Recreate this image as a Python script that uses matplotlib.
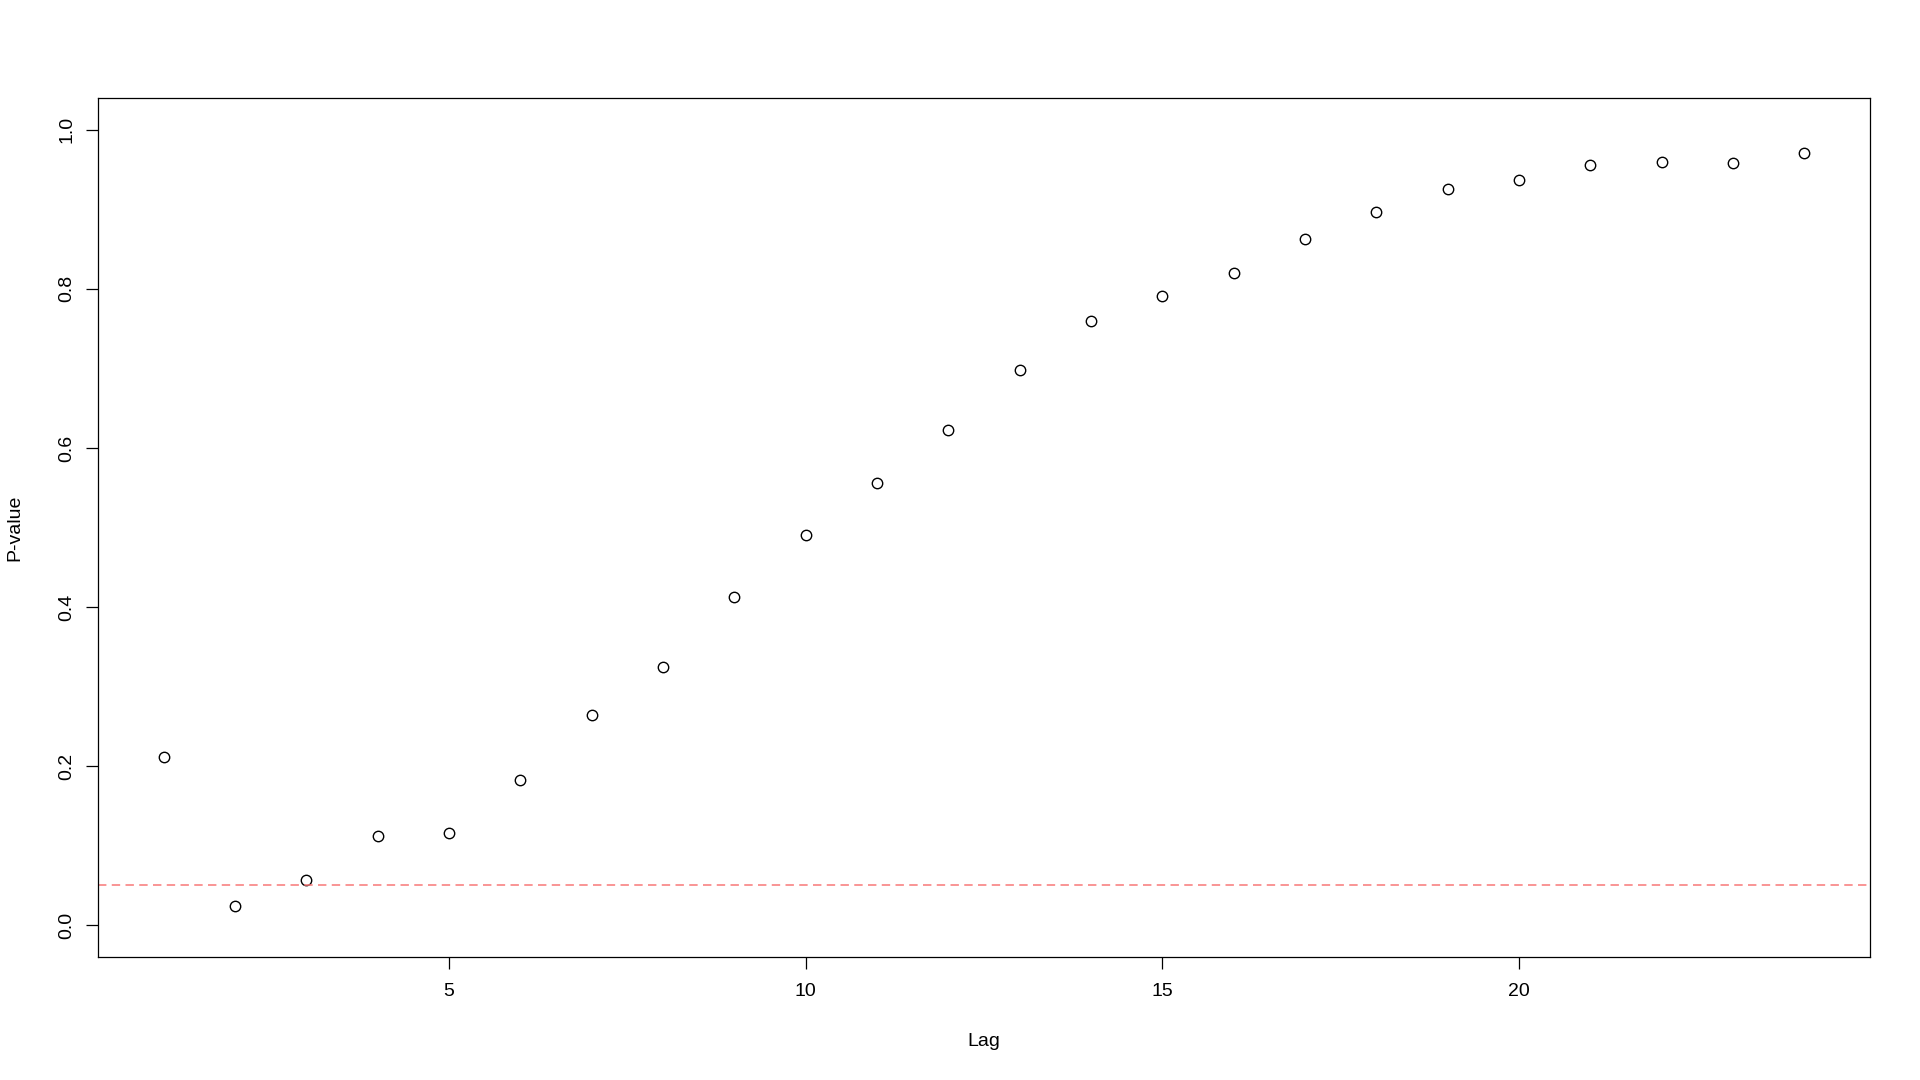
import numpy as np
import matplotlib
matplotlib.use("Agg")
import matplotlib.pyplot as plt

# Ljung-Box style p-values by lag
lags = list(range(1, 25))
pvalues = [0.211, 0.024, 0.057, 0.112, 0.116, 0.183, 0.264, 0.324,
           0.413, 0.491, 0.556, 0.623, 0.698, 0.760, 0.791, 0.820,
           0.863, 0.897, 0.925, 0.937, 0.956, 0.959, 0.958, 0.971]
threshold = 0.05
yticks = [0.0, 0.2, 0.4, 0.6, 0.8, 1.0]
xticks = [5, 10, 15, 20]

plt.rcParams['font.family'] = ['Liberation Sans', 'DejaVu Sans']

W, H = 1920, 1080
fig = plt.figure(figsize=(W / 100, H / 100), dpi=100)
left, right, top, bottom = 98, 1870, 98, 957
ax = fig.add_axes([left / W, 1 - bottom / H, (right - left) / W, (bottom - top) / H])

ax.plot(lags, pvalues, 'o', mfc='none', mec='black', ms=7.5, mew=1.0)
ax.axhline(threshold, color='#F87878', lw=1.1, dashes=(5.5, 3.5))

ax.set_xlim(0.08, 24.92)
ax.set_ylim(-0.04, 1.04)
ax.set_xticks(xticks)
ax.set_xticklabels([str(t) for t in xticks])
ax.set_yticks(yticks)
ax.set_yticklabels([f"{t:.1f}" for t in yticks], rotation=90, va='center')

for s in ax.spines.values():
    s.set_linewidth(0.9)
    s.set_color('black')
ax.tick_params(axis='both', length=8.5, width=0.9, labelsize=14)
ax.tick_params(axis='x', pad=10)
ax.tick_params(axis='y', pad=8)

fig.text(984 / W, 1 - 1042 / H, 'Lag', ha='center', va='center', fontsize=14)
fig.text(15 / W, 1 - 528 / H, 'P-value', ha='center', va='center', rotation=90, fontsize=14)

fig.savefig('out.png', dpi=100)
